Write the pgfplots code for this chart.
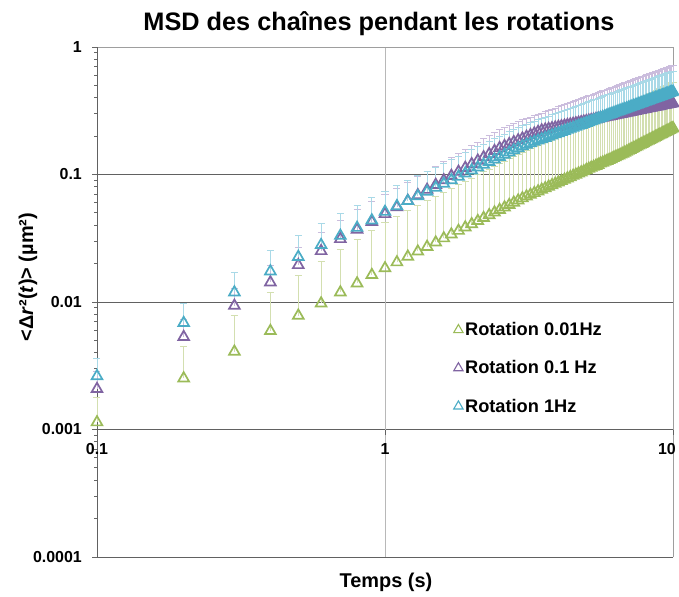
\documentclass[border=0pt]{standalone}
\usepackage{fontspec}
\setmainfont{Liberation Sans}
\usepackage{pgfplots}
\usepackage{pgfplotstable}
\pgfplotsset{compat=1.18}

\definecolor{cgreen}{HTML}{9BBB59}
\definecolor{cpurple}{HTML}{8064A2}
\definecolor{ccyan}{HTML}{4BACC6}
\definecolor{egreen}{HTML}{D3DFB0}
\definecolor{epurple}{HTML}{CBBDDD}
\definecolor{ecyan}{HTML}{A9D9E7}

% t, MSD, upper error
\pgfplotstableread{
t y e
0.1 0.00114 0.00063
0.2 0.00252 0.00197
0.3 0.00408 0.00375
0.4 0.00593 0.00593
0.5 0.00782 0.00829
0.6 0.00975 0.0110
0.7 0.0119 0.0140
0.8 0.0140 0.0168
0.9 0.0163 0.0200
1.0 0.0184 0.0239
1.1 0.0205 0.0267
1.2 0.0227 0.0295
1.3 0.0249 0.0324
1.4 0.0271 0.0352
1.5 0.0293 0.0381
1.6 0.0316 0.0411
1.7 0.0339 0.0441
1.8 0.0362 0.0471
1.9 0.0385 0.0501
2.0 0.0408 0.0530
2.1 0.0432 0.0562
2.2 0.0456 0.0593
2.3 0.0480 0.0624
2.4 0.0504 0.0655
2.5 0.0528 0.0686
2.6 0.0552 0.0718
2.7 0.0577 0.0750
2.8 0.0602 0.0783
2.9 0.0626 0.0814
3.0 0.0651 0.0846
3.1 0.0673 0.0875
3.2 0.0694 0.0902
3.3 0.0716 0.0931
3.4 0.0738 0.0959
3.5 0.0760 0.0988
3.6 0.0781 0.1015
3.7 0.0803 0.1044
3.8 0.0825 0.1073
3.9 0.0846 0.1100
4.0 0.0868 0.1128
4.1 0.0890 0.1157
4.2 0.0911 0.1184
4.3 0.0933 0.1213
4.4 0.0955 0.1242
4.5 0.0977 0.1270
4.6 0.0998 0.1297
4.7 0.1020 0.1326
4.8 0.1040 0.1352
4.9 0.1060 0.1378
5.0 0.1085 0.1411
5.1 0.1110 0.1443
5.2 0.1130 0.1469
5.3 0.1150 0.1495
5.4 0.1170 0.1521
5.5 0.1190 0.1547
5.6 0.1220 0.1586
5.7 0.1240 0.1612
5.8 0.1260 0.1638
5.9 0.1280 0.1664
6.0 0.1300 0.1690
6.1 0.1320 0.1716
6.2 0.1350 0.1755
6.3 0.1370 0.1781
6.4 0.1390 0.1807
6.5 0.1410 0.1833
6.6 0.1435 0.1866
6.7 0.1460 0.1898
6.8 0.1485 0.1931
6.9 0.1510 0.1963
7.0 0.1535 0.1996
7.1 0.1561 0.2029
7.2 0.1586 0.2062
7.3 0.1611 0.2094
7.4 0.1637 0.2128
7.5 0.1662 0.2161
7.6 0.1688 0.2194
7.7 0.1713 0.2227
7.8 0.1739 0.2261
7.9 0.1764 0.2293
8.0 0.1790 0.2327
8.1 0.1816 0.2361
8.2 0.1842 0.2395
8.3 0.1868 0.2428
8.4 0.1894 0.2462
8.5 0.1920 0.2496
8.6 0.1946 0.2530
8.7 0.1972 0.2564
8.8 0.1998 0.2597
8.9 0.2024 0.2631
9.0 0.2050 0.2665
9.1 0.2076 0.2699
9.2 0.2102 0.2733
9.3 0.2129 0.2768
9.4 0.2155 0.2802
9.5 0.2181 0.2835
9.6 0.2208 0.2870
9.7 0.2235 0.2906
9.8 0.2261 0.2939
9.9 0.2287 0.2973
10.0 0.2314 0.3008
}\rotA

\pgfplotstableread{
t y e
0.1 0.00208 0.00077
0.2 0.00532 0.0020
0.3 0.00935 0.0034
0.4 0.01426 0.0052
0.5 0.0195 0.0075
0.6 0.0251 0.0102
0.7 0.0312 0.0124
0.8 0.0370 0.0158
0.9 0.0425 0.0189
1.0 0.0490 0.0206
1.1 0.0554 0.0222
1.2 0.0621 0.0248
1.3 0.0689 0.0276
1.4 0.0759 0.0304
1.5 0.0830 0.0332
1.6 0.0902 0.0361
1.7 0.0976 0.0390
1.8 0.1052 0.0421
1.9 0.1128 0.0451
2.0 0.1206 0.0482
2.1 0.1285 0.0514
2.2 0.1365 0.0546
2.3 0.1446 0.0578
2.4 0.1529 0.0612
2.5 0.1612 0.0645
2.6 0.1673 0.0669
2.7 0.1734 0.0694
2.8 0.1795 0.0718
2.9 0.1856 0.0742
3.0 0.1916 0.0766
3.1 0.1977 0.0776
3.2 0.2037 0.0789
3.3 0.2098 0.0800
3.4 0.2159 0.0811
3.5 0.2219 0.0823
3.6 0.2249 0.0864
3.7 0.2278 0.0906
3.8 0.2306 0.0948
3.9 0.2335 0.0990
4.0 0.2363 0.1031
4.1 0.2390 0.1074
4.2 0.2417 0.1115
4.3 0.2444 0.1158
4.4 0.2471 0.1200
4.5 0.2497 0.1242
4.6 0.2523 0.1284
4.7 0.2549 0.1326
4.8 0.2574 0.1368
4.9 0.2599 0.1411
5.0 0.2624 0.1453
5.1 0.2648 0.1495
5.2 0.2672 0.1538
5.3 0.2697 0.1580
5.4 0.2720 0.1622
5.5 0.2744 0.1665
5.6 0.2767 0.1708
5.7 0.2790 0.1750
5.8 0.2813 0.1792
5.9 0.2836 0.1834
6.0 0.2858 0.1877
6.1 0.2881 0.1918
6.2 0.2903 0.1961
6.3 0.2925 0.2003
6.4 0.2947 0.2046
6.5 0.2968 0.2088
6.6 0.2989 0.2131
6.7 0.3011 0.2173
6.8 0.3031 0.2216
6.9 0.3052 0.2258
7.0 0.3074 0.2299
7.1 0.3094 0.2343
7.2 0.3114 0.2384
7.3 0.3134 0.2428
7.4 0.3155 0.2469
7.5 0.3175 0.2512
7.6 0.3194 0.2554
7.7 0.3214 0.2597
7.8 0.3234 0.2638
7.9 0.3253 0.2681
8.0 0.3272 0.2723
8.1 0.3292 0.2766
8.2 0.3311 0.2807
8.3 0.3330 0.2851
8.4 0.3348 0.2894
8.5 0.3367 0.2934
8.6 0.3386 0.2977
8.7 0.3404 0.3019
8.8 0.3423 0.3061
8.9 0.3441 0.3104
9.0 0.3458 0.3146
9.1 0.3477 0.3187
9.2 0.3495 0.3230
9.3 0.3513 0.3272
9.4 0.3530 0.3314
9.5 0.3548 0.3356
9.6 0.3566 0.3399
9.7 0.3583 0.3442
9.8 0.3600 0.3483
9.9 0.3617 0.3525
10.0 0.3635 0.3567
}\rotB

\pgfplotstableread{
t y e
0.1 0.00262 0.00097
0.2 0.00685 0.0029
0.3 0.0119 0.0053
0.4 0.0174 0.0078
0.5 0.0226 0.0107
0.6 0.0280 0.0137
0.7 0.0331 0.0163
0.8 0.0382 0.0195
0.9 0.0437 0.0229
1.0 0.0510 0.0230
1.1 0.0565 0.0254
1.2 0.0621 0.0279
1.3 0.0677 0.0305
1.4 0.0733 0.0330
1.5 0.0790 0.0356
1.6 0.0847 0.0381
1.7 0.0904 0.0407
1.8 0.0962 0.0433
1.9 0.1020 0.0459
2.0 0.1078 0.0485
2.1 0.1137 0.0512
2.2 0.1195 0.0538
2.3 0.1254 0.0564
2.4 0.1313 0.0591
2.5 0.1372 0.0617
2.6 0.1431 0.0644
2.7 0.1491 0.0671
2.8 0.1551 0.0698
2.9 0.1611 0.0725
3.0 0.1671 0.0752
3.1 0.1717 0.0773
3.2 0.1761 0.0792
3.3 0.1806 0.0813
3.4 0.1851 0.0833
3.5 0.1895 0.0853
3.6 0.1940 0.0873
3.7 0.1984 0.0893
3.8 0.2027 0.0912
3.9 0.2071 0.0932
4.0 0.2114 0.0951
4.1 0.2157 0.0971
4.2 0.2200 0.0990
4.3 0.2243 0.1009
4.4 0.2285 0.1028
4.5 0.2327 0.1047
4.6 0.2369 0.1066
4.7 0.2411 0.1085
4.8 0.2453 0.1104
4.9 0.2495 0.1123
5.0 0.2537 0.1142
5.1 0.2578 0.1160
5.2 0.2619 0.1179
5.3 0.2661 0.1197
5.4 0.2701 0.1215
5.5 0.2742 0.1234
5.6 0.2783 0.1252
5.7 0.2823 0.1270
5.8 0.2863 0.1288
5.9 0.2904 0.1307
6.0 0.2944 0.1325
6.1 0.2984 0.1343
6.2 0.3024 0.1361
6.3 0.3063 0.1378
6.4 0.3104 0.1397
6.5 0.3142 0.1414
6.6 0.3182 0.1432
6.7 0.3222 0.1450
6.8 0.3261 0.1467
6.9 0.3300 0.1485
7.0 0.3339 0.1503
7.1 0.3378 0.1520
7.2 0.3416 0.1537
7.3 0.3455 0.1555
7.4 0.3494 0.1572
7.5 0.3533 0.1590
7.6 0.3571 0.1607
7.7 0.3610 0.1625
7.8 0.3648 0.1642
7.9 0.3685 0.1658
8.0 0.3724 0.1676
8.1 0.3763 0.1693
8.2 0.3800 0.1710
8.3 0.3838 0.1727
8.4 0.3876 0.1744
8.5 0.3913 0.1761
8.6 0.3951 0.1778
8.7 0.3988 0.1795
8.8 0.4026 0.1812
8.9 0.4063 0.1828
9.0 0.4100 0.1845
9.1 0.4137 0.1862
9.2 0.4174 0.1878
9.3 0.4212 0.1895
9.4 0.4248 0.1912
9.5 0.4285 0.1928
9.6 0.4322 0.1945
9.7 0.4359 0.1962
9.8 0.4395 0.1978
9.9 0.4432 0.1994
10.0 0.4469 0.2011
}\rotC

\pgfplotsset{
  msd/.style n args={2}{
    only marks, mark=triangle, mark size=6.2bp,
    mark options={draw=#1, fill=none, line width=1.7bp},
    error bars/y dir=plus, error bars/y explicit,
    error bars/error bar style={draw=#2, line width=0.8bp},
    error bars/error mark options={draw=#2, line width=0.8bp, mark size=3.5bp, rotate=90},
  },
}

\begin{document}
\begin{tikzpicture}
\useasboundingbox (0,0) rectangle (679bp,597bp);
\begin{axis}[
  at={(97bp,40bp)}, anchor=south west,
  width=576bp, height=510bp, scale only axis,
  xmode=log, ymode=log,
  xmin=0.1, xmax=10, ymin=1e-4, ymax=1,
  clip=false,
  axis line style={draw=none},
  xtick=\empty,
  ytick={1e-4,1e-3,1e-2,1e-1,1},
  yticklabels={0.0001,0.001,0.01,0.1,1},
  ytick pos=left, tick align=outside, major tick length=5bp,
  y tick style={black!60, line width=0.8bp},
  yticklabel style={font=\fontsize{16}{19}\selectfont\bfseries, inner sep=0pt, xshift=-10bp},
  title={MSD des chaînes pendant les rotations},
  every axis title/.style={at={(rel axis cs:0.4896,1)}, anchor=base, yshift=17bp,
    font=\fontsize{25.4}{30}\selectfont\bfseries},
  xlabel={Temps (s)},
  every axis x label/.style={at={(rel axis cs:0.5017,0)}, anchor=base, yshift=-30bp,
    font=\fontsize{20}{24}\selectfont\bfseries},
  ylabel={<Δ\textit{r}²(\textit{t})> (µm²)},
  every axis y label/.style={at={(rel axis cs:0,0.549)}, xshift=-69bp, rotate=90, anchor=center,
    font=\fontsize{20}{24}\selectfont\bfseries},
  legend cell align=left,
  legend style={at={(rel axis cs:0.619,0.464)}, anchor=north west, draw=none, fill=none,
    font=\fontsize{18.3}{21}\selectfont\bfseries, row sep=19.5bp, inner sep=0pt},
  legend image code/.code={\draw[#1, /tikz/every mark/.append style={line width=1.1bp}, /tikz/mark size=5.4bp] plot coordinates {(0.2cm,0cm)};},
]
% frame and grid
\draw[black!62, line width=0.8bp] (axis cs:0.1,1e-3) -- (axis cs:10,1e-3);
\draw[black!62, line width=0.8bp] (axis cs:0.1,1e-2) -- (axis cs:10,1e-2);
\draw[black!62, line width=0.8bp] (axis cs:0.1,1e-1) -- (axis cs:10,1e-1);
\draw[black!28, line width=0.8bp] (axis cs:1,1e-4) -- (axis cs:1,1);
\draw[black!38, line width=0.8bp] (rel axis cs:0,1) -- (rel axis cs:1,1) -- (rel axis cs:1,0);
\draw[black!62, line width=0.8bp] (rel axis cs:1,0) -- (rel axis cs:0,0) -- (rel axis cs:0,1);
\draw[black!62, line width=0.8bp] (axis cs:1,1e-3) -- ([yshift=-5bp]axis cs:1,1e-3);
\draw[black!62, line width=0.8bp] (axis cs:10,1e-3) -- ([yshift=-5bp]axis cs:10,1e-3);
\node[anchor=base, font=\fontsize{16}{19}\selectfont\bfseries, yshift=-24.5bp] at (axis cs:0.1,1e-3) {0.1};
\node[anchor=base, font=\fontsize{16}{19}\selectfont\bfseries, yshift=-24.5bp] at (axis cs:1,1e-3) {1};
\node[anchor=base east, font=\fontsize{16}{19}\selectfont\bfseries, yshift=-24.5bp, xshift=3bp, inner sep=0pt] at (axis cs:10,1e-3) {10};

\addplot[msd={cgreen}{egreen}] table[x=t, y=y, y error=e] {\rotA};
\addplot[msd={cpurple}{epurple}] table[x=t, y=y, y error=e] {\rotB};
\addplot[msd={ccyan}{ecyan}] table[x=t, y=y, y error=e] {\rotC};
\legend{Rotation 0.01Hz, Rotation 0.1 Hz, Rotation 1Hz}
\end{axis}
\end{tikzpicture}
\end{document}
